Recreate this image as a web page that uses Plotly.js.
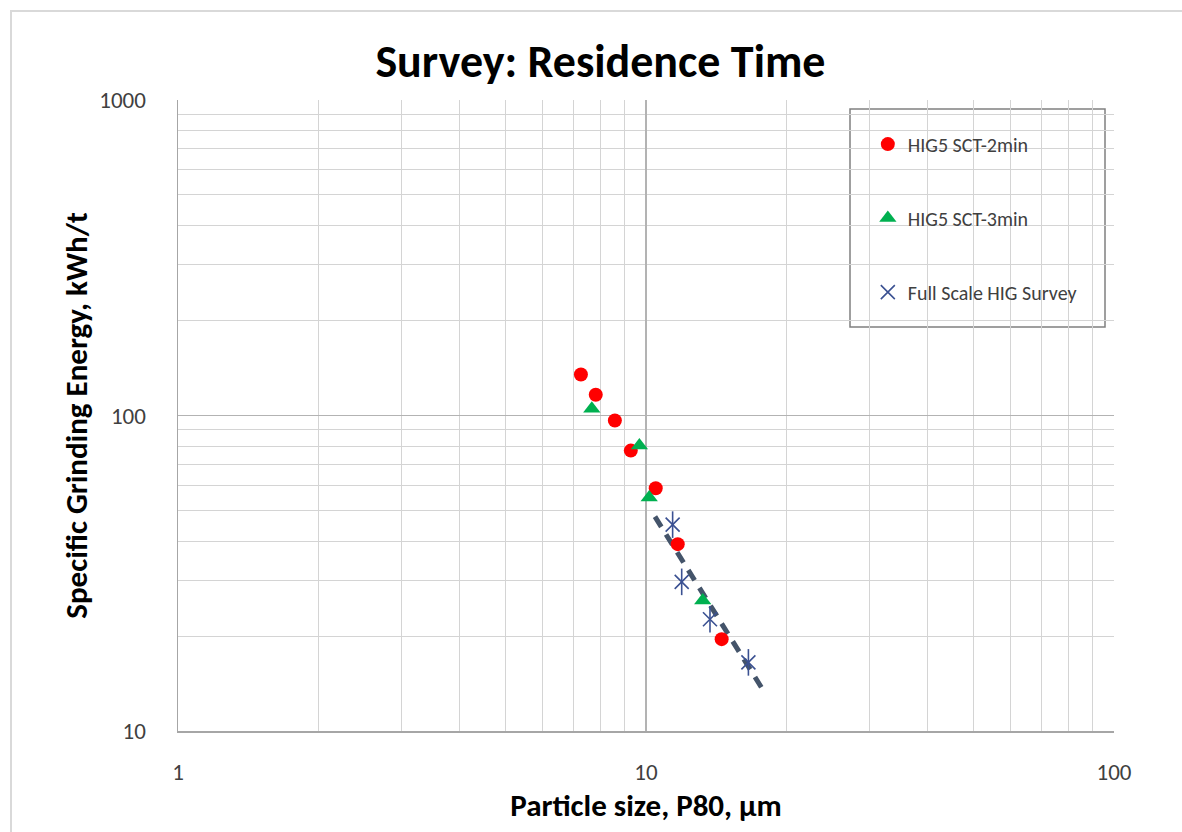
<!DOCTYPE html>
<html>
<head>
<meta charset="utf-8">
<script src="https://cdn.plot.ly/plotly-3.0.1.min.js"></script>
<style>
  html, body { margin: 0; padding: 0; background: #ffffff; }
  #chart { width: 1182px; height: 832px; position: relative; }
  #frame { position: absolute; left: 10px; top: 10px; width: 1200px; height: 900px;
           border: 2px solid #d9d9d9; pointer-events: none; box-sizing: border-box; }
</style>
</head>
<body>
<div id="chart"></div>
<div id="frame"></div>
<script>
// Data
const sct2_x = [7.26, 7.81, 8.58, 9.28, 10.49, 11.69, 14.51];
const sct2_y = [134.9, 116.3, 96.4, 77.4, 58.8, 39.1, 19.55];

const sct3_x = [7.66, 9.68, 10.16, 13.22];
const sct3_y = [105.0, 80.3, 55.0, 25.9];

const full_x = [11.40, 11.92, 13.70, 16.55];
const full_y = [45.1, 29.7, 22.6, 16.5];

// Power trend line end points (Full Scale HIG Survey)
const trend_x = [10.45, 17.67];
const trend_y = [47.8, 13.7];

const xTickVals = [1, 10, 100];
const yTickVals = [10, 100, 1000];

const FONT = "Carlito, 'Liberation Sans Narrow', 'Liberation Sans', sans-serif";

const traces = [
  {
    x: trend_x, y: trend_y, mode: 'lines', type: 'scatter',
    line: { color: '#44546a', width: 5, dash: '12px,9px' },
    showlegend: false, hoverinfo: 'skip'
  },
  {
    x: sct2_x, y: sct2_y, mode: 'markers', type: 'scatter', name: 'HIG5 SCT-2min',
    legendgroup: 'a',
    marker: { symbol: 'circle', size: 14, color: '#ff0000' }
  },
  {
    x: sct3_x, y: sct3_y, mode: 'markers', type: 'scatter', name: 'HIG5 SCT-3min',
    legendgroup: 'b',
    marker: { symbol: 'triangle-up', size: 15, color: '#00b050' }
  },
  {
    x: full_x, y: full_y, mode: 'markers', type: 'scatter', name: 'Full Scale HIG Survey',
    legendgroup: 'c',
    marker: { symbol: 'x-thin-open', size: 14, color: '#3b5192', line: { width: 1.6, color: '#3b5192' } }
  },
  {
    x: full_x, y: full_y, mode: 'markers', type: 'scatter', name: 'Full Scale HIG Survey',
    legendgroup: 'c', showlegend: false,
    marker: { symbol: 'line-ns-open', size: 19, color: '#3b5192', line: { width: 1.6, color: '#3b5192' } }
  }
];

const layout = {
  width: 1182, height: 832,
  margin: { l: 178, r: 68, t: 100, b: 101 },
  paper_bgcolor: '#ffffff', plot_bgcolor: '#ffffff',
  font: { family: FONT, color: '#404040' },
  title: {
    text: 'Survey: Residence Time',
    font: { family: FONT, size: 46, color: '#000000', weight: 'bold' },
    xref: 'container', x: 0.508, xanchor: 'center',
    yref: 'container', y: 0.927, yanchor: 'middle'
  },
  xaxis: {
    type: 'log', range: [0, 2],
    tickvals: xTickVals, ticktext: xTickVals.map(String),
    tickfont: { size: 23, color: '#404040', family: FONT },
    ticks: '', ticklabelstandoff: 20,
    showgrid: true, gridcolor: '#b3b3b3', gridwidth: 1.3,
    minor: { showgrid: true, gridcolor: '#d4d4d4', gridwidth: 1, dtick: 'D1' },
    showline: true, linecolor: '#a6a6a6', linewidth: 1.5, mirror: false,
    zeroline: false,
    title: { text: 'Particle size, P80, µm', font: { size: 31, color: '#000000', family: FONT, weight: 'bold' }, standoff: 9 }
  },
  yaxis: {
    type: 'log', range: [1, 3],
    tickvals: yTickVals, ticktext: yTickVals.map(String),
    tickfont: { size: 23, color: '#404040', family: FONT },
    ticks: '', ticklabelstandoff: 26,
    showgrid: true, gridcolor: '#b3b3b3', gridwidth: 1.3,
    minor: { showgrid: true, gridcolor: '#d4d4d4', gridwidth: 1, dtick: 'D1' },
    showline: true, linecolor: '#a6a6a6', linewidth: 1.5, mirror: false,
    zeroline: false,
    title: { text: 'Specific Grinding Energy, kWh/t', font: { size: 31, color: '#000000', family: FONT, weight: 'bold' }, standoff: 2 }
  },
  showlegend: true,
  legend: {
    x: 0.737, y: 0.961, xanchor: 'left', yanchor: 'top',
    bgcolor: 'rgba(0,0,0,0)', borderwidth: 0,
    traceorder: 'grouped', tracegroupgap: 45,
    font: { size: 20, color: '#404040', family: FONT }
  },
  shapes: [
    {
      type: 'rect', xref: 'paper', yref: 'paper',
      x0: (850 - 178) / 936, x1: (1105 - 178) / 936,
      y0: (731 - 327) / 631, y1: (731 - 109) / 631,
      line: { color: '#808080', width: 1.5 }, fillcolor: '#ffffff', layer: 'below'
    }
  ]
};

Plotly.newPlot('chart', traces, layout, { displayModeBar: false, staticPlot: true });
</script>
</body>
</html>
